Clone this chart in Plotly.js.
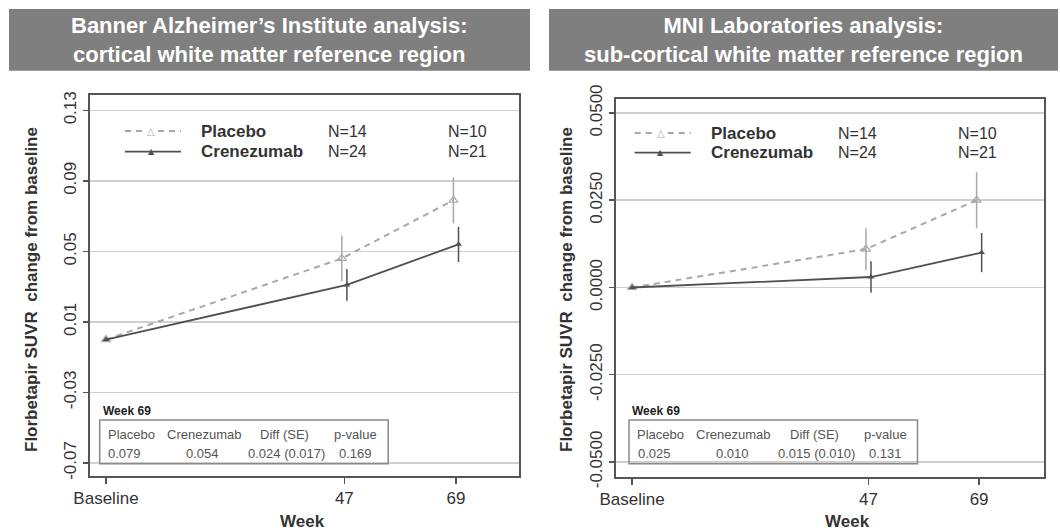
<!DOCTYPE html>
<html>
<head>
<meta charset="utf-8">
<script src="https://cdn.plot.ly/plotly-3.0.1.min.js"></script>
<style>html,body{margin:0;padding:0;background:#fff;}#chart{width:1060px;height:530px;}</style>
</head>
<body>
<div id="chart"></div>
<script>
// ---------- data ----------
const weeks = [0, 47, 69];
const weekLabels = ['Baseline', '47', '69'];
const groups = ['Placebo', 'Crenezumab'];
const nWeek47 = ['N=14', 'N=24'];
const nWeek69 = ['N=10', 'N=21'];
const panelTitles = [
  'Banner Alzheimer\u2019s Institute analysis:<br>cortical white matter reference region',
  'MNI Laboratories analysis:<br>sub-cortical white matter reference region'
];
const yAxisTitle = 'Florbetapir SUVR  change from baseline';
const xAxisTitle = 'Week';

const baiPlacebo = [0, 0.046, 0.079];
const baiPlaceboErr = [0, 0.013, 0.013];
const baiCrenezumab = [0, 0.031, 0.054];
const baiCrenezumabErr = [0, 0.009, 0.010];
const baiYTicks = [-0.07, -0.03, 0.01, 0.05, 0.09, 0.13];
const baiYTickText = ['-0.07', '-0.03', '0.01', '0.05', '0.09', '0.13'];

const mniPlacebo = [0, 0.011, 0.025];
const mniPlaceboErr = [0, 0.006, 0.008];
const mniCrenezumab = [0, 0.003, 0.010];
const mniCrenezumabErr = [0, 0.0045, 0.0056];
const mniYTicks = [-0.05, -0.025, 0, 0.025, 0.05];
const mniYTickText = ['-0.0500', '-0.0250', '0.0000', '0.0250', '0.0500'];

const tableTitle = 'Week 69';
const tableHeader = ['Placebo', 'Crenezumab', 'Diff (SE)', 'p-value'];
const baiTable = ['0.079', '0.054', '0.024 (0.017)', '0.169'];
const mniTable = ['0.025', '0.010', '0.015 (0.010)', '0.131'];

// ---------- layout helpers ----------
const W = 1060, H = 530;
const px = x => x / W;
const py = y => 1 - y / H;
const FONT = 'Liberation Sans, Arial, sans-serif';
const PLACEBO_COLOR = '#a8a8a8';
const CRENE_COLOR = '#505050';
const DODGE = 0.5;

const panels = [
  {
    placebo: baiPlacebo, placeboErr: baiPlaceboErr, crene: baiCrenezumab, creneErr: baiCrenezumabErr,
    yTicks: baiYTicks, yTickText: baiYTickText, table: baiTable, title: panelTitles[0],
    box: [89.5, 518.6, 95, 476], xRange: [-3.25, 81.35], yRange: [-0.0774, 0.1387],
    bar: [9, 530], legX: 125, legY: [131, 151.6], tableX: 99.7, yTitleX: 31, weekX: 302
  },
  {
    placebo: mniPlacebo, placeboErr: mniPlaceboErr, crene: mniCrenezumab, creneErr: mniCrenezumabErr,
    yTicks: mniYTicks, yTickText: mniYTickText, table: mniTable, title: panelTitles[1],
    box: [616, 1043.5, 99, 477], xRange: [-3.2, 81.8], yRange: [-0.0543, 0.054],
    bar: [549, 1058], legX: 634.7, legY: [133, 152.6], tableX: 629, yTitleX: 566, weekX: 847
  }
];

const traces = [];
const shapes = [];
const annotations = [];
const layout = {
  width: W, height: H, margin: {l: 0, r: 0, t: 0, b: 0},
  paper_bgcolor: '#fff', plot_bgcolor: '#fff', showlegend: false,
  font: {family: FONT, color: '#333'}
};

panels.forEach((p, i) => {
  const n = i === 0 ? '' : String(i + 1);
  const xa = 'x' + n, ya = 'y' + n;
  layout['xaxis' + n] = {
    domain: [px(p.box[0]), px(p.box[1])], range: p.xRange, anchor: ya,
    tickvals: weeks, ticktext: weekLabels, ticks: 'outside', ticklen: 6, tickwidth: 1.5, tickcolor: '#555',
    showline: true, linecolor: '#555', linewidth: 2, mirror: true, showgrid: false, zeroline: false,
    tickfont: {size: 17, color: '#333', family: FONT}, fixedrange: true
  };
  layout['yaxis' + n] = {
    domain: [py(p.box[3]), py(p.box[2])], range: p.yRange, anchor: xa,
    tickvals: p.yTicks, ticktext: p.yTickText, tickangle: -90, ticks: 'outside', ticklen: 5, tickwidth: 1.5, tickcolor: '#555',
    showline: true, linecolor: '#555', linewidth: 2, mirror: true,
    showgrid: true, gridcolor: '#cfcfcf', gridwidth: 1.5, zeroline: false,
    tickfont: {size: 17, color: '#333', family: FONT}, fixedrange: true
  };

  const placeboX = weeks.map(w => w > 0 ? w - DODGE : w);
  const creneX = weeks.map(w => w > 0 ? w + DODGE : w);

  traces.push({
    type: 'scatter', mode: 'lines+markers', name: groups[0], xaxis: xa, yaxis: ya,
    x: placeboX, y: p.placebo,
    line: {color: PLACEBO_COLOR, width: 2, dash: '6px,5px'},
    marker: {symbol: 'triangle-up-open', size: 8, color: PLACEBO_COLOR, line: {width: 1.2}},
    error_y: {type: 'data', array: p.placeboErr, visible: true, width: 0, thickness: 1.5, color: PLACEBO_COLOR}
  });
  traces.push({
    type: 'scatter', mode: 'lines+markers', name: groups[1], xaxis: xa, yaxis: ya,
    x: creneX, y: p.crene,
    line: {color: CRENE_COLOR, width: 1.8},
    marker: {symbol: 'triangle-up', size: 6, color: CRENE_COLOR},
    error_y: {type: 'data', array: p.creneErr, visible: true, width: 0, thickness: 1.5, color: CRENE_COLOR}
  });

  // title bar
  shapes.push({type: 'rect', xref: 'paper', yref: 'paper', x0: px(p.bar[0]), x1: px(p.bar[1]), y0: py(70.7), y1: py(9),
    fillcolor: '#7f7f7f', line: {width: 0}, layer: 'below'});
  annotations.push({xref: 'paper', yref: 'paper', x: px((p.bar[0] + p.bar[1]) / 2), y: py(39.5),
    text: '<b>' + p.title + '</b>', showarrow: false, align: 'center', xanchor: 'center', yanchor: 'middle',
    font: {family: FONT, size: 22, color: '#fff'}});

  // y title and x title
  annotations.push({xref: 'paper', yref: 'paper', x: px(p.yTitleX), y: py(290), textangle: -90,
    text: '<b>' + yAxisTitle + '</b>', showarrow: false, xanchor: 'center', yanchor: 'middle',
    font: {family: FONT, size: 17, color: '#333'}});
  annotations.push({xref: 'paper', yref: 'paper', x: px(p.weekX), y: py(521),
    text: '<b>' + xAxisTitle + '</b>', showarrow: false, xanchor: 'center', yanchor: 'middle',
    font: {family: FONT, size: 17, color: '#333'}});

  // legend
  [0, 1].forEach(g => {
    const y = p.legY[g];
    shapes.push({type: 'line', xref: 'paper', yref: 'paper', x0: px(p.legX), x1: px(p.legX + 56), y0: py(y), y1: py(y),
      line: g === 0 ? {color: PLACEBO_COLOR, width: 2, dash: '6px,5px'} : {color: CRENE_COLOR, width: 1.8}});
    annotations.push({xref: 'paper', yref: 'paper', x: px(p.legX + 26), y: py(y),
      text: g === 0 ? '\u25B3' : '\u25B2', showarrow: false, xanchor: 'center', yanchor: 'middle', bgcolor: g === 0 ? '#fff' : 'rgba(0,0,0,0)',
      font: {family: 'DejaVu Sans', size: g === 0 ? 10 : 8, color: g === 0 ? PLACEBO_COLOR : CRENE_COLOR}});
    annotations.push({xref: 'paper', yref: 'paper', x: px(p.legX + 74), y: py(y),
      text: '<b>' + groups[g] + '</b>', showarrow: false, xanchor: 'left', yanchor: 'middle',
      font: {family: FONT, size: 17, color: '#333'}});
    annotations.push({xref: 'paper', yref: 'paper', x: px(p.legX + 201), y: py(y),
      text: nWeek47[g], showarrow: false, xanchor: 'left', yanchor: 'middle',
      font: {family: FONT, size: 16, color: '#333'}});
    annotations.push({xref: 'paper', yref: 'paper', x: px(p.legX + 321), y: py(y),
      text: nWeek69[g], showarrow: false, xanchor: 'left', yanchor: 'middle',
      font: {family: FONT, size: 16, color: '#333'}});
  });

  // week 69 table
  const tx = p.tableX;
  shapes.push({type: 'rect', xref: 'paper', yref: 'paper', x0: px(tx), x1: px(tx + 288.5), y0: py(463.8), y1: py(420),
    line: {color: '#8a8a8a', width: 1.5}, fillcolor: 'rgba(0,0,0,0)'});
  annotations.push({xref: 'paper', yref: 'paper', x: px(tx + 1), y: py(411), text: '<b>' + tableTitle + '</b>',
    showarrow: false, xanchor: 'left', yanchor: 'middle', font: {family: FONT, size: 12, color: '#222'}});
  const headX = [6, 104, 185, 256];
  const valX = [25, 103, 187, 256];
  tableHeader.forEach((h, k) => {
    annotations.push({xref: 'paper', yref: 'paper', x: px(tx + headX[k]), y: py(434), text: h,
      showarrow: false, xanchor: k === 0 ? 'left' : 'center', yanchor: 'middle',
      font: {family: FONT, size: 13, color: '#555'}});
    annotations.push({xref: 'paper', yref: 'paper', x: px(tx + valX[k]), y: py(453.6), text: p.table[k],
      showarrow: false, xanchor: 'center', yanchor: 'middle',
      font: {family: FONT, size: 13, color: '#555'}});
  });
});

layout.shapes = shapes;
layout.annotations = annotations;
Plotly.newPlot('chart', traces, layout, {staticPlot: true, displayModeBar: false});
</script>
</body>
</html>
